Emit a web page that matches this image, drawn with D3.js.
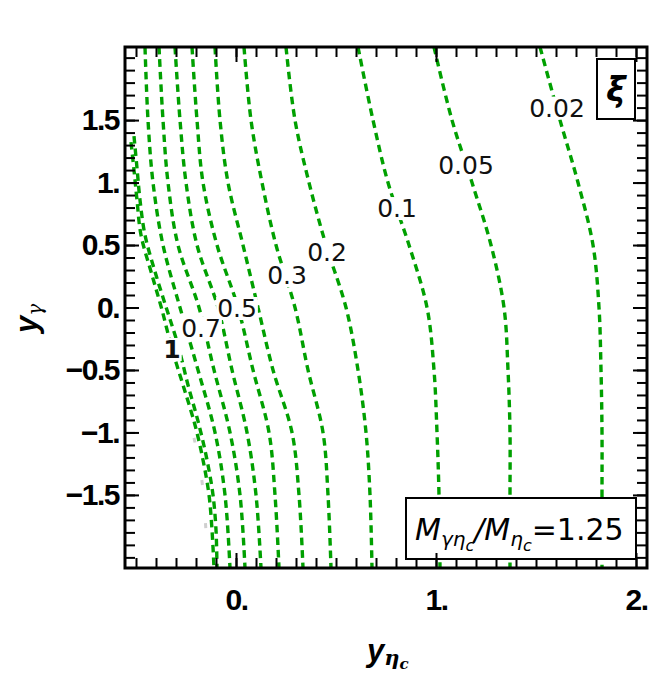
<!DOCTYPE html>
<html lang="en">
<head>
<meta charset="UTF-8">
<script src="https://d3js.org/d3.v7.min.js"></script>
<title>xi contours</title>
<style>
  body { margin: 0; background: #fff; }
  svg { display: block; }
</style>
</head>
<body>
<script>
const rowsY = [2.085, 1.5, 1.0, 0.5, 0, -0.5, -1.0, -1.5, -2.085];

// y_eta_c position of each contour along rowsY
const xi002 = [1.52, 1.62, 1.71, 1.785, 1.815, 1.825, 1.83, 1.83, 1.83];
const xi005 = [0.99, 1.08, 1.18, 1.275, 1.34, 1.36, 1.37, 1.37, 1.37];
const xi01  = [0.61, 0.685, 0.76, 0.865, 0.955, 0.99, 1.005, 1.015, 1.02];
const xi02  = [0.25, 0.295, 0.365, 0.45, 0.55, 0.61, 0.65, 0.67, 0.68];
const xi03  = [0.04, 0.075, 0.13, 0.2, 0.295, 0.36, 0.435, 0.46, 0.475];
const xi04  = [-0.105, -0.08, -0.04, 0.035, 0.11, 0.185, 0.28, 0.315, 0.335];
const xi05  = [-0.22, -0.195, -0.165, -0.095, 0.01, 0.085, 0.165, 0.195, 0.215];
const xi06  = [-0.305, -0.28, -0.25, -0.195, -0.09, -0.02, 0.055, 0.1, 0.125];
const xi07  = [-0.385, -0.365, -0.34, -0.29, -0.185, -0.11, -0.03, 0.02, 0.045];
const xi08  = [-0.455, -0.44, -0.415, -0.365, -0.28, -0.19, -0.105, -0.055, -0.03];

// the two innermost contours start inside the frame: [y_eta_c, y_gamma]
const xi09 = [[-0.51, 1.372], [-0.495, 1.116], [-0.48, 0.86], [-0.455, 0.58], [-0.4, 0.26],
  [-0.345, -0.02], [-0.29, -0.3], [-0.24, -0.62], [-0.185, -0.94], [-0.145, -1.22],
  [-0.115, -1.5], [-0.1, -1.78], [-0.095, -2.085]];
const xi10 = [[-0.525, 1.324], [-0.51, 1.1], [-0.495, 0.86], [-0.475, 0.58], [-0.42, 0.26],
  [-0.37, -0.02], [-0.32, -0.332], [-0.265, -0.62], [-0.205, -0.94], [-0.165, -1.22],
  [-0.135, -1.5], [-0.12, -1.78], [-0.11, -2.085]];

// faint grey boundary pieces near the lower left
const greyEdge = [[-0.21, -1.044], [-0.185, -1.236], [-0.165, -1.46], [-0.15, -1.796]];

// contour labels
const labelText = ["0.02", "0.05", "0.1", "0.2", "0.3", "0.5", "0.7", "1"];
const labelX = [1.605, 1.15, 0.805, 0.455, 0.255, 0.005, -0.175, -0.32];
const labelY = [1.6, 1.14, 0.796, 0.444, 0.26, -0.004, -0.164, -0.332];

// ticks
const xMajor = [0, 1, 2];
const xMajorText = ["0.", "1.", "2."];
const yMajor = [-1.5, -1, -0.5, 0, 0.5, 1, 1.5];
const yMajorText = ["\u22121.5", "\u22121.", "\u22120.5", "0.", "0.5", "1.", "1.5"];
const xMinor = d3.range(-5, 21).map(i => i / 10);
const yMinor = d3.range(-20, 21).map(i => i / 10);

const width = 654, height = 679;
const fLeft = 125, fRight = 647, fTop = 47, fBottom = 568;

const x = d3.scaleLinear().domain([-0.555, 2.055]).range([fLeft, fRight]);
const y = d3.scaleLinear().domain([-2.085, 2.085]).range([fBottom, fTop]);

const svg = d3.select("body").append("svg")
  .attr("width", width)
  .attr("height", height);

svg.append("defs").append("clipPath").attr("id", "frame")
  .append("rect")
  .attr("x", fLeft).attr("y", fTop)
  .attr("width", fRight - fLeft).attr("height", fBottom - fTop);

const green = "#00a000";

const line = d3.line()
  .x(d => x(d[0]))
  .y(d => y(d[1]))
  .curve(d3.curveCatmullRom.alpha(0.5));

const rowCurves = [xi002, xi005, xi01, xi02, xi03, xi04, xi05, xi06, xi07, xi08]
  .map(xs => xs.map((v, i) => [v, rowsY[i]]));
const curves = rowCurves.concat([xi09, xi10]);

const plot = svg.append("g").attr("clip-path", "url(#frame)");

plot.append("path")
  .attr("d", line(greyEdge))
  .attr("fill", "none")
  .attr("stroke", "#cfcfcf")
  .attr("stroke-width", 3)
  .attr("stroke-dasharray", "5,38");

plot.selectAll("path.contour")
  .data(curves)
  .enter().append("path")
  .attr("class", "contour")
  .attr("d", line)
  .attr("fill", "none")
  .attr("stroke", green)
  .attr("stroke-width", 3.4)
  .attr("stroke-dasharray", "7.5,5");

// contour labels, white box behind each
const lab = plot.selectAll("g.lab")
  .data(labelText)
  .enter().append("g")
  .attr("class", "lab")
  .attr("transform", (d, i) => `translate(${x(labelX[i])},${y(labelY[i])})`);

lab.append("text")
  .attr("text-anchor", "middle")
  .attr("dy", "0.36em")
  .attr("font-family", "DejaVu Sans")
  .attr("font-size", 25)
  .attr("font-weight", d => d === "1" ? "bold" : "normal")
  .attr("fill", "#111")
  .text(d => d);

lab.each(function () {
  const g = d3.select(this);
  const b = g.select("text").node().getBBox();
  g.insert("rect", "text")
    .attr("x", b.x - 1).attr("y", b.y + 3)
    .attr("width", b.width + 2).attr("height", b.height - 6)
    .attr("fill", "#fff");
});

// inset boxes
svg.append("rect")
  .attr("x", 597).attr("y", 59).attr("width", 38).attr("height", 60)
  .attr("fill", "#fff").attr("stroke", "#000").attr("stroke-width", 2);
svg.append("text")
  .attr("x", 616).attr("y", 101)
  .attr("text-anchor", "middle")
  .attr("font-family", "DejaVu Sans")
  .attr("font-size", 33)
  .attr("font-weight", "bold")
  .attr("font-style", "italic")
  .text("\u03be");

svg.append("rect")
  .attr("x", 406).attr("y", 498).attr("width", 230).attr("height", 61)
  .attr("fill", "#fff").attr("stroke", "#000").attr("stroke-width", 2);
const mt = svg.append("text")
  .attr("x", 415).attr("y", 540)
  .attr("font-family", "DejaVu Sans")
  .attr("font-size", 30);
mt.append("tspan").attr("font-style", "italic").text("M");
mt.append("tspan").attr("font-style", "italic").attr("font-size", 20).attr("dy", 6).text("\u03b3\u03b7");
mt.append("tspan").attr("font-style", "italic").attr("font-size", 16).attr("dy", 5).text("c");
mt.append("tspan").attr("font-style", "italic").attr("dy", -11).text("/M");
mt.append("tspan").attr("font-style", "italic").attr("font-size", 20).attr("dy", 6).text("\u03b7");
mt.append("tspan").attr("font-style", "italic").attr("font-size", 16).attr("dy", 5).text("c");
mt.append("tspan").attr("dy", -11).text("=1.25");

// ticks on all four sides, pointing inwards
const tickStyle = g => {
  g.select(".domain").remove();
  g.selectAll(".tick line").attr("stroke", "#000").attr("stroke-width", 2);
};

svg.append("g").attr("transform", `translate(0,${fBottom})`)
  .call(d3.axisBottom(x).tickValues(xMinor).tickSize(-10).tickFormat(""))
  .call(tickStyle);
svg.append("g").attr("transform", `translate(0,${fTop})`)
  .call(d3.axisTop(x).tickValues(xMinor).tickSize(-10).tickFormat(""))
  .call(tickStyle);
svg.append("g").attr("transform", `translate(${fLeft},0)`)
  .call(d3.axisLeft(y).tickValues(yMinor).tickSize(-10).tickFormat(""))
  .call(tickStyle);
svg.append("g").attr("transform", `translate(${fRight},0)`)
  .call(d3.axisRight(y).tickValues(yMinor).tickSize(-10).tickFormat(""))
  .call(tickStyle);

const tickFont = g => g.selectAll(".tick text")
  .attr("font-family", "Liberation Sans, Arial, sans-serif")
  .attr("font-size", 30)
  .attr("font-weight", "bold")
  .attr("letter-spacing", -1.5)
  .attr("fill", "#000");

svg.append("g").attr("transform", `translate(0,${fBottom})`)
  .call(d3.axisBottom(x).tickValues(xMajor).tickSize(-15).tickPadding(21)
    .tickFormat((d, i) => xMajorText[i]))
  .call(tickStyle).call(tickFont);
svg.append("g").attr("transform", `translate(0,${fTop})`)
  .call(d3.axisTop(x).tickValues(xMajor).tickSize(-15).tickFormat(""))
  .call(tickStyle);
svg.append("g").attr("transform", `translate(${fLeft},0)`)
  .call(d3.axisLeft(y).tickValues(yMajor).tickSize(-14).tickPadding(6)
    .tickFormat((d, i) => yMajorText[i]))
  .call(tickStyle).call(tickFont);
svg.append("g").attr("transform", `translate(${fRight},0)`)
  .call(d3.axisRight(y).tickValues(yMajor).tickSize(-14).tickFormat(""))
  .call(tickStyle);

// frame
svg.append("rect")
  .attr("x", fLeft).attr("y", fTop)
  .attr("width", fRight - fLeft).attr("height", fBottom - fTop)
  .attr("fill", "none").attr("stroke", "#000").attr("stroke-width", 3);

// axis titles
const xt = svg.append("text")
  .attr("x", 367).attr("y", 661)
  .attr("font-family", "Liberation Sans, Arial, sans-serif")
  .attr("font-size", 31);
xt.append("tspan").attr("font-weight", "bold").attr("font-style", "italic").text("y");
xt.append("tspan").attr("font-family", "DejaVu Serif").attr("font-style", "italic")
  .attr("font-weight", "bold").attr("font-size", 21).attr("dy", 4).text("\u03b7");
xt.append("tspan").attr("font-family", "DejaVu Serif").attr("font-style", "italic")
  .attr("font-weight", "bold").attr("font-size", 15).attr("dy", 4).text("c");

const yt = svg.append("text")
  .attr("transform", "translate(37,333) rotate(-90)")
  .attr("font-family", "Liberation Sans, Arial, sans-serif")
  .attr("font-size", 31);
yt.append("tspan").attr("font-weight", "bold").attr("font-style", "italic").text("y");
yt.append("tspan").attr("font-family", "DejaVu Serif").attr("font-style", "italic")
  .attr("font-size", 20).attr("dy", 5).text("\u03b3");
</script>
</body>
</html>
